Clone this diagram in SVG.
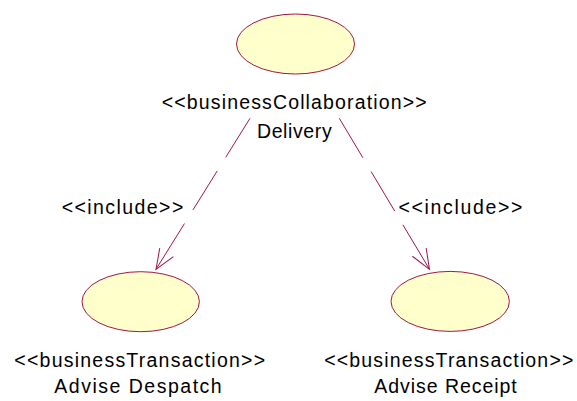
<svg xmlns="http://www.w3.org/2000/svg" width="577" height="401" viewBox="0 0 577 401">
<style>
.uc{fill:#ffffcc;stroke:#a0164a;stroke-width:1}
.lbl{font-family:"Liberation Sans",Arial,sans-serif;font-size:19.5px;fill:#000;text-anchor:middle}
.dep{fill:none;stroke:#a0164a;stroke-width:1;stroke-dasharray:46 16 46 16 200}
.ah{fill:none;stroke:#a0164a;stroke-width:1}
</style>
<defs>
<marker id="open" markerUnits="userSpaceOnUse" markerWidth="30" markerHeight="30" viewBox="-25 -15 30 30" refX="0" refY="0" orient="auto">
<path class="ah" d="M-20,-8 L0,0 L-20,8"/>
</marker>
</defs>
<rect width="577" height="401" fill="#fff"/>
<g id="connectors">
<path class="dep" d="M250,118.3 L156,269.3" marker-end="url(#open)"/>
<text class="lbl" x="122.5" y="214.3" textLength="121.6" lengthAdjust="spacing">&lt;&lt;include&gt;&gt;</text>
<path class="dep" d="M339.3,118.3 L429.5,269.3" marker-end="url(#open)"/>
<text class="lbl" x="460.5" y="214.3" textLength="124" lengthAdjust="spacing">&lt;&lt;include&gt;&gt;</text>
</g>
<g id="delivery">
<ellipse class="uc" cx="295.5" cy="44" rx="59" ry="30"/>
<text class="lbl" x="294.2" y="109" textLength="265" lengthAdjust="spacing">&lt;&lt;businessCollaboration&gt;&gt;</text>
<text class="lbl" x="294.3" y="138" textLength="74.7" lengthAdjust="spacing">Delivery</text>
</g>
<g id="adviseDespatch">
<ellipse class="uc" cx="140.7" cy="301.7" rx="58.7" ry="30"/>
<text class="lbl" x="139.7" y="367.3" textLength="250.7" lengthAdjust="spacing">&lt;&lt;businessTransaction&gt;&gt;</text>
<text class="lbl" x="138" y="392.7" textLength="167.4" lengthAdjust="spacing">Advise Despatch</text>
</g>
<g id="adviseReceipt">
<ellipse class="uc" cx="450.2" cy="301.4" rx="59.2" ry="30"/>
<text class="lbl" x="448.8" y="367.3" textLength="249" lengthAdjust="spacing">&lt;&lt;businessTransaction&gt;&gt;</text>
<text class="lbl" x="445.5" y="392.7" textLength="142.4" lengthAdjust="spacing">Advise Receipt</text>
</g>
</svg>
